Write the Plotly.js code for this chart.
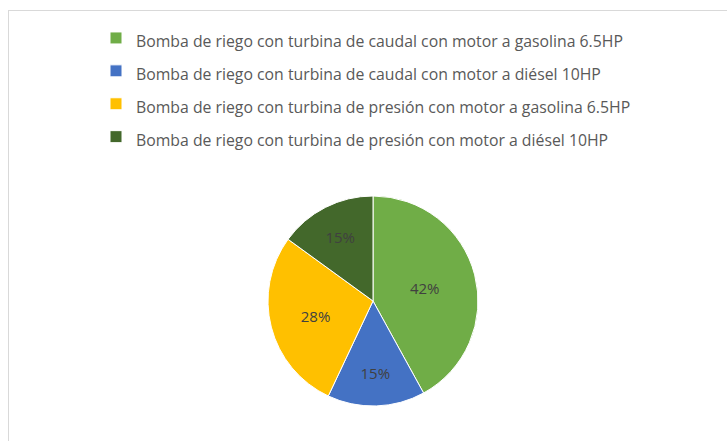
<!DOCTYPE html>
<html>
<head>
<meta charset="utf-8">
<script src="https://cdn.plot.ly/plotly-3.0.1.min.js"></script>
<style>html,body{margin:0;padding:0;background:#fff;}#chart{width:727px;height:441px;}</style>
</head>
<body>
<div id="chart"></div>
<script>
const categories = [
  "Bomba de riego con turbina de caudal con motor a gasolina 6.5HP",
  "Bomba de riego con turbina de caudal con motor a diésel 10HP",
  "Bomba de riego con turbina de presión con motor a gasolina 6.5HP",
  "Bomba de riego con turbina de presión con motor a diésel 10HP"
];
const values = [42, 15, 28, 15];
const colors = ["#70AD47", "#4472C4", "#FFC000", "#43682B"];

const W = 727, H = 441;
const px = v => v / W, py = v => 1 - v / H;

const trace = {
  type: "pie",
  labels: categories.map(c => '<span style="font-size:15.8px">' + c + '</span>'),
  values: values,
  sort: false,
  direction: "clockwise",
  rotation: 0,
  marker: {colors: colors, line: {color: "#ffffff", width: 1}},
  textinfo: "percent",
  textposition: "inside",
  insidetextorientation: "horizontal",
  insidetextfont: {family: "'Open Sans', sans-serif", size: 15, color: "#404040"},
  hoverinfo: "label+percent",
  domain: {x: [px(268), px(478)], y: [py(406), py(196)]}
};

const layout = {
  width: W, height: H,
  margin: {l: 0, r: 0, t: 0, b: 0},
  paper_bgcolor: "#ffffff",
  showlegend: true,
  legend: {
    x: px(96), y: py(16.5), xanchor: "left", yanchor: "top",
    font: {family: "'Open Sans', sans-serif", size: 23, color: "#595959"},
    bgcolor: "rgba(0,0,0,0)"
  },
  shapes: [
    {type: "line", xref: "paper", yref: "paper", x0: px(8), x1: 1, y0: py(10.5), y1: py(10.5), line: {color: "#D9D9D9", width: 1}},
    {type: "line", xref: "paper", yref: "paper", x0: px(8.5), x1: px(8.5), y0: py(10), y1: 0, line: {color: "#D9D9D9", width: 1}}
  ]
};

Plotly.newPlot("chart", [trace], layout, {displayModeBar: false, staticPlot: true});
</script>
</body>
</html>
